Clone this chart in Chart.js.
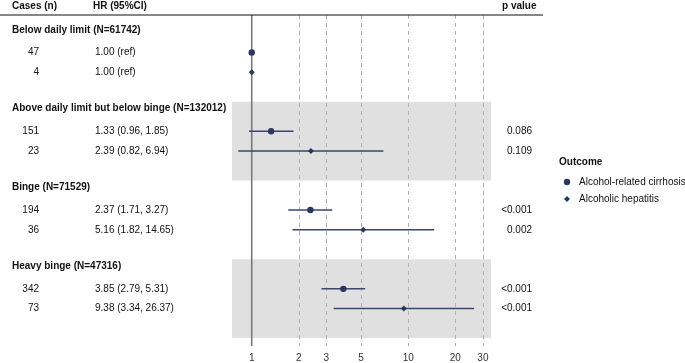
<!doctype html>
<html lang="en">
  <head>
    <meta charset="UTF-8">
    <title>Forest plot</title>
    <style>
      html, body { margin: 0; padding: 0; background: #fff; }
      #wrap { width: 685px; height: 363px; }
    </style>
  </head>
  <body>
    <div id="wrap"><canvas id="myChart" width="685" height="363"></canvas></div>
    <script src="https://cdn.jsdelivr.net/npm/chart.js@4.4.1/dist/chart.umd.min.js"></script>
    <script>
    // Data-----
    const groups = [
      'Below daily limit (N=61742)',
      'Above daily limit but below binge (N=132012)',
      'Binge (N=71529)',
      'Heavy binge (N=47316)'
    ];
    const cirrhosisCases = [47, 151, 194, 342];
    const cirrhosisHR = [1.00, 1.33, 2.37, 3.85];
    const cirrhosisLow = [null, 0.96, 1.71, 2.79];
    const cirrhosisHigh = [null, 1.85, 3.27, 5.31];
    const cirrhosisP = ['', '0.086', '<0.001', '<0.001'];

    const hepatitisCases = [4, 23, 36, 73];
    const hepatitisHR = [1.00, 2.39, 5.16, 9.38];
    const hepatitisLow = [null, 0.82, 1.82, 3.34];
    const hepatitisHigh = [null, 6.94, 14.65, 26.37];
    const hepatitisP = ['', '0.109', '0.002', '<0.001'];

    const xTicks = [1, 2, 3, 5, 10, 20, 30];
    // Data-----

    // row layout: each group takes 4 units on the y scale
    const headerRow = (g) => g * 4 + 0.35;
    const cirrhosisRow = (g) => g * 4 + 1.5;
    const hepatitisRow = (g) => g * 4 + 2.5;
    const shadedGroups = [1, 3];

    const navy = '#2b3760';
    const font = '"Liberation Sans", Arial, sans-serif';

    const fmt = (hr, lo, hi) => lo == null ? hr.toFixed(2) + ' (ref)' :
      hr.toFixed(2) + ' (' + lo.toFixed(2) + ', ' + hi.toFixed(2) + ')';

    const forestPlugin = {
      id: 'forest',
      beforeDatasetsDraw(chart) {
        const {ctx, chartArea, scales: {x, y}} = chart;
        ctx.save();
        // grey bands
        ctx.fillStyle = '#e0e0e0';
        shadedGroups.forEach(g => {
          const top = y.getPixelForValue(g * 4);
          const bot = y.getPixelForValue(g * 4 + 4);
          ctx.fillRect(chartArea.left, top, chartArea.right - chartArea.left, bot - top);
        });
        // dashed reference lines
        ctx.strokeStyle = '#b0b0b0';
        ctx.lineWidth = 1;
        ctx.setLineDash([4, 4]);
        xTicks.filter(v => v !== 1).forEach(v => {
          const px = Math.round(x.getPixelForValue(v)) + 0.5;
          ctx.beginPath();
          ctx.moveTo(px, chartArea.top);
          ctx.lineTo(px, chartArea.bottom);
          ctx.stroke();
        });
        ctx.setLineDash([]);
        // null line at HR = 1
        ctx.strokeStyle = '#7a7a7a';
        ctx.lineWidth = 1.6;
        const p1 = x.getPixelForValue(1);
        ctx.beginPath();
        ctx.moveTo(p1, chartArea.top);
        ctx.lineTo(p1, chartArea.bottom);
        ctx.stroke();
        // confidence intervals
        ctx.strokeStyle = '#3a466f';
        ctx.lineWidth = 1.5;
        const bars = (lo, hi, row) => lo.forEach((l, g) => {
          if (l == null) return;
          const py = y.getPixelForValue(row(g));
          ctx.beginPath();
          ctx.moveTo(x.getPixelForValue(l), py);
          ctx.lineTo(x.getPixelForValue(hi[g]), py);
          ctx.stroke();
        });
        bars(cirrhosisLow, cirrhosisHigh, cirrhosisRow);
        bars(hepatitisLow, hepatitisHigh, hepatitisRow);
        ctx.restore();
      },
      afterDraw(chart) {
        const {ctx, chartArea, scales: {y}} = chart;
        ctx.save();
        ctx.textBaseline = 'middle';
        ctx.fillStyle = '#111';
        // header
        ctx.font = 'bold 10px ' + font;
        ctx.textAlign = 'left';
        ctx.fillText('Cases (n)', 12, 6);
        ctx.fillText('HR (95%CI)', 93, 6);
        ctx.fillText('p value', 502, 6);
        ctx.strokeStyle = '#111';
        ctx.lineWidth = 1.2;
        ctx.beginPath();
        ctx.moveTo(0, chartArea.top);
        ctx.lineTo(543, chartArea.top);
        ctx.stroke();
        // rows
        groups.forEach((name, g) => {
          ctx.font = 'bold 10px ' + font;
          ctx.textAlign = 'left';
          ctx.fillText(name, 12, y.getPixelForValue(headerRow(g)));
          ctx.font = '10px ' + font;
          [[cirrhosisRow, cirrhosisCases, cirrhosisHR, cirrhosisLow, cirrhosisHigh, cirrhosisP],
           [hepatitisRow, hepatitisCases, hepatitisHR, hepatitisLow, hepatitisHigh, hepatitisP]]
            .forEach(([row, cases, hr, lo, hi, p]) => {
              const py = y.getPixelForValue(row(g));
              ctx.textAlign = 'right';
              ctx.fillText(String(cases[g]), 39, py);
              ctx.fillText(p[g], 532, py);
              ctx.textAlign = 'left';
              ctx.fillText(fmt(hr[g], lo[g], hi[g]), 95, py);
            });
        });
        // legend
        ctx.textAlign = 'left';
        ctx.font = 'bold 10px ' + font;
        ctx.fillText('Outcome', 559, 162);
        ctx.font = '10px ' + font;
        chart.data.datasets.forEach((ds, i) => {
          const py = 182 + i * 17;
          ctx.fillStyle = ds.backgroundColor;
          Chart.helpers.drawPoint(ctx, {pointStyle: ds.pointStyle, radius: ds.pointRadius, rotation: 0, borderWidth: 0}, 567, py);
          ctx.fillStyle = '#111';
          ctx.fillText(ds.label, 579, py);
        });
        ctx.restore();
      }
    };

    const config = {
      type: 'scatter',
      data: {
        datasets: [{
          label: 'Alcohol-related cirrhosis',
          pointStyle: 'circle',
          pointRadius: 3.2,
          backgroundColor: navy,
          borderColor: navy,
          borderWidth: 0,
          clip: false,
          data: cirrhosisHR.map((v, g) => ({x: v, y: cirrhosisRow(g)}))
        }, {
          label: 'Alcoholic hepatitis',
          pointStyle: 'rectRot',
          pointRadius: 3,
          backgroundColor: navy,
          borderColor: navy,
          borderWidth: 0,
          clip: false,
          data: hepatitisHR.map((v, g) => ({x: v, y: hepatitisRow(g)}))
        }]
      },
      options: {
        responsive: false,
        animation: false,
        layout: { padding: { left: 232, right: 194, top: 15, bottom: 0 } },
        plugins: { legend: { display: false }, tooltip: { enabled: false } },
        scales: {
          x: {
            type: 'logarithmic',
            min: 0.748,
            max: 33.8,
            bounds: 'data',
            afterBuildTicks: (scale) => { scale.ticks = xTicks.map(v => ({value: v})); },
            afterFit: (scale) => { scale.height = 17; },
            grid: { display: false, drawTicks: false },
            border: { display: false },
            ticks: {
              autoSkip: false,
              maxRotation: 0,
              padding: 6,
              color: '#333',
              font: { family: font, size: 10 },
              callback: (v) => String(v)
            }
          },
          y: {
            type: 'linear',
            min: -0.4,
            max: 16.4,
            reverse: true,
            display: false
          }
        }
      },
      plugins: [forestPlugin]
    };

    const myChart = new Chart(document.getElementById('myChart'), config);
    </script>
  </body>
</html>
